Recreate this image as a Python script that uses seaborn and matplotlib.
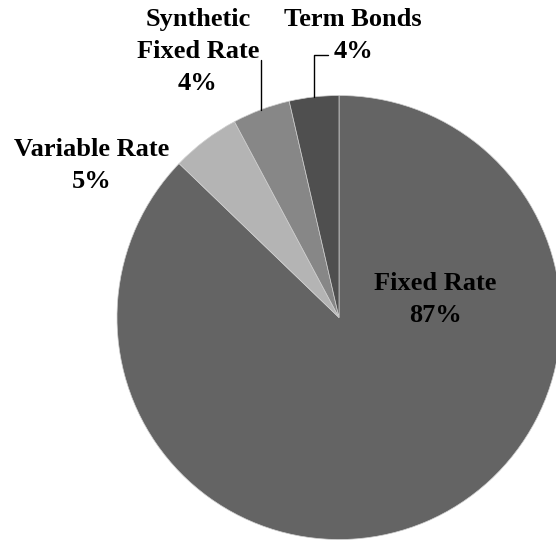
import numpy as np
import seaborn as sns
import matplotlib.pyplot as plt

# debt composition (share of total, %)
labels = ["Fixed Rate", "Variable Rate", "Synthetic\nFixed Rate", "Term Bonds"]
values = [87.2, 5.0, 4.2, 3.6]
colors = ["#646464", "#b4b4b4", "#878787", "#4f4f4f"]

W, H = 556, 542
sns.set_theme(style="white")
plt.rcParams['font.family'] = ['Liberation Serif', 'DejaVu Serif']

fig = plt.figure(figsize=(W / 100, H / 100), dpi=100)
cx, cy, r = 339, 317.5, 222
ax = fig.add_axes([(cx - r) / W, (H - cy - r) / H, 2 * r / W, 2 * r / H])
wedges, _ = ax.pie(values, colors=colors, startangle=90, counterclock=False,
                   radius=1, wedgeprops=dict(edgecolor="#d0d0d0", linewidth=0.5))
ax.set_xlim(-1, 1)
ax.set_ylim(-1, 1)
ax.axis("off")


def to_data(px, py):
    return (px - cx) / r, (cy - py) / r


# label block centres in pixels
label_pos = [(435, 299), (92, 165), (198, 51), (353, 35)]
for lab, v, (px, py) in zip(labels, values, label_pos):
    ax.text(*to_data(px, py), f"{lab}\n{v:.0f}%", ha="center", va="center",
            fontsize=19, fontweight="bold", color="black", linespacing=1.5,
            clip_on=False)

# leader lines for the two small slices
for i, top, hx in [(2, 60, None), (3, 55, 328)]:
    w = wedges[i]
    ang = np.deg2rad((w.theta1 + w.theta2) / 2)
    x0, y0 = np.cos(ang), np.sin(ang)
    xs, ys = [x0, x0], [y0, to_data(0, top)[1]]
    if hx is not None:
        xs.append(to_data(hx, 0)[0])
        ys.append(ys[-1])
    ax.plot(xs, ys, color="black", linewidth=1, clip_on=False)

fig.savefig("out.png", dpi=100)
